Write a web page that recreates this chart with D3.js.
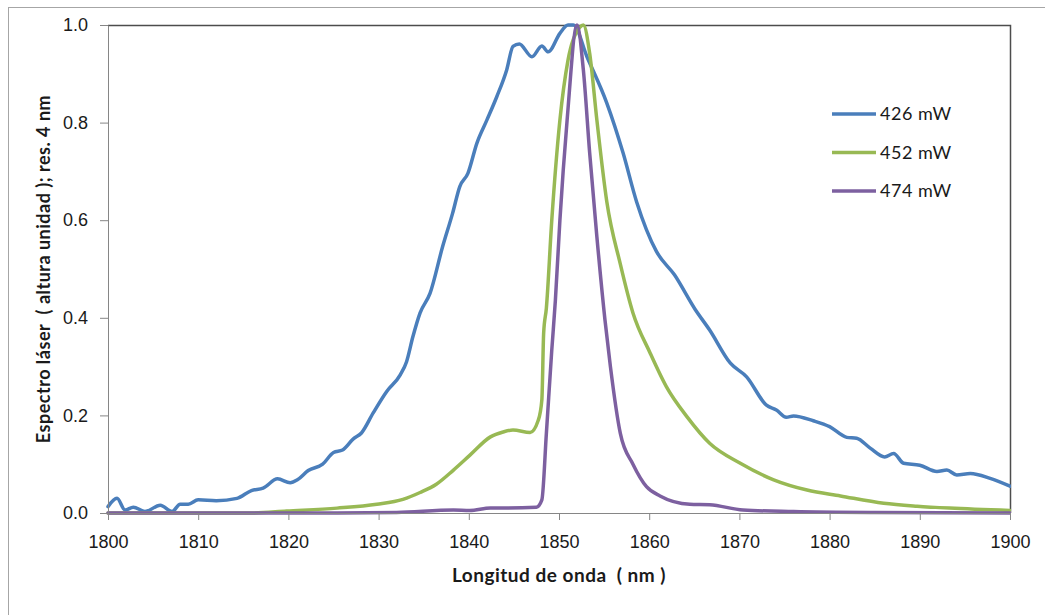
<!DOCTYPE html>
<html>
<head>
<meta charset="utf-8">
<script src="https://cdn.jsdelivr.net/npm/d3@7"></script>
<style>
  body { margin: 0; background: #fff; }
  svg { font-family: Lato, "Open Sans", sans-serif; }
</style>
</head>
<body>
<div id="chart"></div>
<script>
// wavelength (nm) / normalised intensity
const blueX = [1800, 1801, 1801.9, 1802.8, 1804.1, 1805.8, 1807.1, 1808, 1808.9, 1810, 1812, 1814.3, 1815.9, 1817.2, 1818.8, 1820.2, 1821, 1822.2, 1823.8, 1825, 1826, 1827.2, 1828.1, 1829.4, 1830.9, 1832.4, 1833.1, 1833.8, 1834.6, 1835.7, 1837.1, 1838.2, 1839, 1839.9, 1840.9, 1842, 1843.1, 1844.2, 1844.9, 1845.6, 1847, 1848.1, 1848.8, 1850.1, 1851, 1851.6, 1853.1, 1855.3, 1857.1, 1858.6, 1860.8, 1862.8, 1865.1, 1866.7, 1869, 1870.8, 1873, 1874.1, 1875.2, 1876, 1878.2, 1880, 1881.9, 1883, 1884.5, 1886.1, 1887.1, 1888.2, 1890, 1891.9, 1893, 1894.1, 1895.6, 1897.8, 1900]
const blueY = [0.013, 0.03, 0.006, 0.012, 0.003, 0.016, 0.003, 0.018, 0.018, 0.027, 0.025, 0.03, 0.046, 0.051, 0.07, 0.062, 0.068, 0.087, 0.1, 0.124, 0.129, 0.152, 0.164, 0.205, 0.249, 0.283, 0.31, 0.361, 0.41, 0.45, 0.546, 0.614, 0.669, 0.696, 0.758, 0.805, 0.853, 0.908, 0.956, 0.961, 0.935, 0.957, 0.945, 0.983, 1.0, 1.0, 0.935, 0.84, 0.738, 0.638, 0.536, 0.488, 0.417, 0.375, 0.307, 0.279, 0.221, 0.211, 0.196, 0.199, 0.189, 0.177, 0.155, 0.153, 0.133, 0.115, 0.122, 0.102, 0.098, 0.085, 0.088, 0.078, 0.081, 0.071, 0.055]

const greenX = [1800, 1816, 1819.8, 1825.4, 1829.8, 1832.7, 1834.6, 1836.4, 1838.3, 1840.1, 1842.4, 1843.8, 1844.9, 1846.8, 1847.7, 1848.1, 1848.3, 1848.6, 1849.2, 1850.1, 1851, 1852.3, 1852.7, 1853.4, 1854.2, 1855.3, 1856.8, 1858.2, 1860.1, 1861.9, 1864.2, 1866.7, 1870.1, 1873.8, 1877.5, 1881.2, 1886, 1889.7, 1893.3, 1900]
const greenY = [0, 0, 0.004, 0.01, 0.018, 0.028, 0.042, 0.059, 0.088, 0.118, 0.156, 0.166, 0.17, 0.165, 0.19, 0.232, 0.369, 0.42, 0.6, 0.805, 0.928, 0.995, 1.0, 0.942, 0.805, 0.638, 0.51, 0.41, 0.328, 0.259, 0.197, 0.143, 0.102, 0.068, 0.047, 0.035, 0.02, 0.014, 0.01, 0.005]

const purpleX = [1800, 1825.4, 1832, 1838.3, 1840.1, 1842.4, 1843.1, 1847.5, 1848.1, 1848.6, 1849.2, 1849.6, 1850.1, 1850.9, 1852, 1852.7, 1853.4, 1854.2, 1855.1, 1855.7, 1856.8, 1858.2, 1859.7, 1861.2, 1864.5, 1866.7, 1870.4, 1876, 1885, 1900]
const purpleY = [0, 0, 0.001, 0.006, 0.005, 0.01, 0.01, 0.012, 0.027, 0.163, 0.334, 0.436, 0.6, 0.805, 1.0, 0.908, 0.738, 0.566, 0.395, 0.3, 0.163, 0.1, 0.054, 0.035, 0.018, 0.017, 0.006, 0.003, 0.001, 0]

const seriesNames = ['426 mW', '452 mW', '474 mW']
const seriesColors = ['#4a7ebb', '#98b954', '#7d60a0']
const xTicks = [1800, 1810, 1820, 1830, 1840, 1850, 1860, 1870, 1880, 1890, 1900]
const yTicks = [0, 0.2, 0.4, 0.6, 0.8, 1.0]

const width = 1045
const height = 615
const margin = ({ top: 25, right: 35, bottom: 102, left: 108 })

const series = [
    blueX.map((x, i) => [x, blueY[i]]),
    greenX.map((x, i) => [x, greenY[i]]),
    purpleX.map((x, i) => [x, purpleY[i]])
]

const svg = d3.select('#chart')
    .append('svg')
    .attr('width', width)
    .attr('height', height)

// outer chart frame
svg.append('rect')
    .attr('x', 8.5)
    .attr('y', 7.5)
    .attr('width', 1200)
    .attr('height', 800)
    .attr('fill', 'none')
    .attr('stroke', '#a6a6a6')

const x = d3.scaleLinear()
    .domain([1800, 1900])
    .range([margin.left, width - margin.right])
const y = d3.scaleLinear()
    .domain([0, 1])
    .range([height - margin.bottom, margin.top])

// plot area border (top / right dark)
svg.append('path')
    .attr('d', `M${x(1800)},${y(1) + 0.5}H${x(1900) + 0.5}V${y(0)}`)
    .attr('fill', 'none')
    .attr('stroke', '#4d4d4d')
    .attr('stroke-width', 1.5)

svg.append('clipPath')
    .attr('id', 'clip')
  .append('rect')
    .attr('x', x(1800) - 2)
    .attr('y', y(1) - 2)
    .attr('width', x(1900) - x(1800) + 3)
    .attr('height', y(0) - y(1) + 4)

const line = d3.line()
    .x(d => x(d[0]))
    .y(d => y(d[1]))
    .curve(d3.curveMonotoneX)

svg.append('g')
    .attr('clip-path', 'url(#clip)')
  .selectAll('path')
  .data(series)
  .join('path')
    .attr('d', line)
    .attr('fill', 'none')
    .attr('stroke', (d, i) => seriesColors[i])
    .attr('stroke-width', 3.5)
    .attr('stroke-linejoin', 'round')
    .attr('stroke-linecap', 'round')

const xAxis = g => g
    .attr('transform', `translate(0,${y(0)})`)
    .call(d3.axisBottom(x).tickValues(xTicks).tickFormat(d3.format('d')).tickSize(7).tickSizeOuter(0))
    .call(g => g.selectAll('line, path').attr('stroke', '#868686'))
    .call(g => g.selectAll('text').attr('font-size', 18).attr('fill', '#1a1a1a').attr('dy', '1.4em'))

const yAxis = g => g
    .attr('transform', `translate(${x(1800)},0)`)
    .call(d3.axisLeft(y).tickValues(yTicks).tickFormat(d3.format('.1f')).tickSize(8).tickSizeOuter(0))
    .call(g => g.selectAll('line, path').attr('stroke', '#868686'))
    .call(g => g.selectAll('text').attr('font-size', 18).attr('fill', '#1a1a1a').attr('x', -20))

svg.append('g').call(xAxis)
svg.append('g').call(yAxis)

svg.append('text')
    .attr('x', (x(1800) + x(1900)) / 2)
    .attr('y', 582)
    .attr('text-anchor', 'middle')
    .attr('font-size', 19)
    .attr('font-weight', 'bold')
    .attr('letter-spacing', 0.5)
    .style('white-space', 'pre')
    .attr('fill', '#1a1a1a')
    .text('Longitud de onda  ( nm )')

svg.append('text')
    .attr('transform', `translate(50,${(y(0) + y(1)) / 2}) rotate(-90)`)
    .attr('text-anchor', 'middle')
    .attr('font-size', 18)
    .attr('font-weight', 'bold')
    .attr('letter-spacing', 0.5)
    .style('white-space', 'pre')
    .attr('fill', '#1a1a1a')
    .text('Espectro láser  ( altura unidad ); res. 4 nm')

// legend
const legend = svg.append('g')
    .selectAll('g')
    .data(seriesNames)
    .join('g')
    .attr('transform', (d, i) => `translate(832,${114 + i * 38.5})`)
legend.append('line')
    .attr('x1', 0)
    .attr('x2', 44)
    .attr('stroke', (d, i) => seriesColors[i])
    .attr('stroke-width', 3.5)
legend.append('text')
    .attr('x', 48)
    .attr('dy', '0.35em')
    .attr('font-size', 18)
    .attr('letter-spacing', 0.5)
    .attr('fill', '#1a1a1a')
    .text(d => d)
</script>
</body>
</html>
